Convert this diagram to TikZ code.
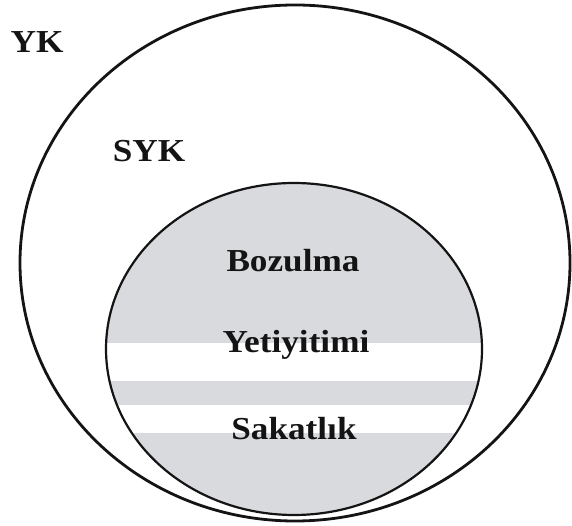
\documentclass[tikz,border=0pt]{standalone}
\usepackage{fontspec}
\setmainfont{Liberation Serif}
\definecolor{bandgray}{RGB}{217,218,221}
\definecolor{ink}{RGB}{20,20,20}
\tikzset{
  lbl/.style={font=\bfseries\fontsize{32}{36}\selectfont, text=ink, anchor=base, inner sep=0pt, xscale=1.1},
  ring/.style={line width=2.8pt, draw=ink},
}
\begin{document}
\begin{tikzpicture}[x=1pt,y=1pt]
\useasboundingbox (0,0) rectangle (572,526);
% inner gray ellipse with white bands
\begin{scope}
  \clip (294,177) ellipse [x radius=188, y radius=166];
  \fill[bandgray] (294,177) ellipse [x radius=188, y radius=166];
  \fill[white] (100,145) rectangle (490,183);
  \fill[white] (100,93) rectangle (490,121);
\end{scope}
\draw[line width=2.2pt, draw=ink] (294,177) ellipse [x radius=188, y radius=166];
% outer ellipse
\draw[ring] (295,263) ellipse [x radius=275, y radius=258];
% labels
\node[lbl] (yk) at (37,473) {YK};
\node[lbl] (syk) at (149,364) {SYK};
\node[lbl] (boz) at (293,254) {Bozulma};
\node[lbl] (yet) at (296,173) {Yetiyitimi};
\node[lbl] (sak) at (294,86) {Sakatlık};
\end{tikzpicture}
\end{document}
